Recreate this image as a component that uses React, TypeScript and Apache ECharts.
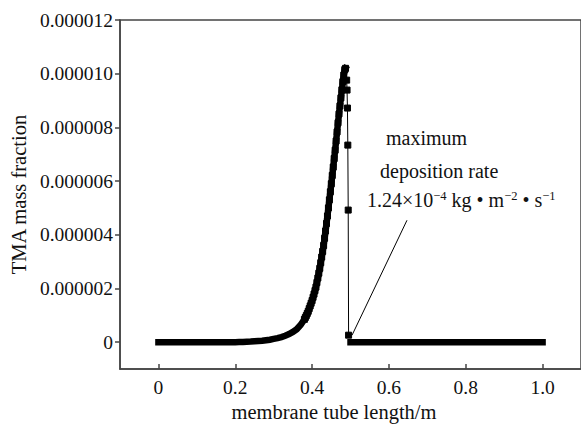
import React, { useEffect, useRef } from "react";
import * as echarts from "echarts";

// membrane tube length (m) and TMA mass fraction
const plateauStartX = [0.0, 0.01, 0.02, 0.03, 0.04, 0.05, 0.06, 0.07, 0.08, 0.09, 0.1, 0.11, 0.12, 0.13, 0.14, 0.15, 0.16, 0.17, 0.18, 0.19, 0.2];
const plateauStartY = [0, 0, 0, 0, 0, 0, 0, 0, 0, 0, 0, 0, 0, 0, 0, 0, 0, 0, 0, 0, 0];

const riseX = [0.21, 0.22, 0.23, 0.24, 0.25, 0.26, 0.27, 0.28, 0.29, 0.3, 0.31, 0.32, 0.33, 0.34, 0.35, 0.36, 0.37];
const riseY = [0.005e-6, 0.01e-6, 0.015e-6, 0.02e-6, 0.03e-6, 0.04e-6, 0.05e-6, 0.07e-6, 0.09e-6, 0.12e-6, 0.15e-6, 0.19e-6, 0.24e-6, 0.3e-6, 0.38e-6, 0.48e-6, 0.64e-6];

const peakX = [
  0.38, 0.3825, 0.385, 0.3875, 0.39, 0.3925, 0.395, 0.3975, 0.4, 0.4025, 0.405, 0.4075, 0.41, 0.4125, 0.415,
  0.4175, 0.42, 0.4225, 0.425, 0.4275, 0.43, 0.4325, 0.435, 0.4375, 0.44, 0.4425, 0.445, 0.4475, 0.45, 0.4525,
  0.455, 0.4575, 0.46, 0.4625, 0.465, 0.4675, 0.47, 0.4725, 0.475, 0.4775, 0.48, 0.4825, 0.485, 0.487,
];
const peakY = [
  0.85e-6, 0.92e-6, 0.99e-6, 1.07e-6, 1.15e-6, 1.25e-6, 1.35e-6, 1.45e-6, 1.55e-6, 1.67e-6, 1.79e-6, 1.92e-6,
  2.05e-6, 2.22e-6, 2.39e-6, 2.57e-6, 2.75e-6, 2.96e-6, 3.17e-6, 3.38e-6, 3.6e-6, 3.87e-6, 4.14e-6, 4.42e-6,
  4.7e-6, 5.0e-6, 5.3e-6, 5.6e-6, 5.9e-6, 6.21e-6, 6.52e-6, 6.84e-6, 7.15e-6, 7.49e-6, 7.83e-6, 8.17e-6,
  8.5e-6, 8.8e-6, 9.1e-6, 9.4e-6, 9.7e-6, 9.95e-6, 10.15e-6, 10.2e-6,
];

const dropX = [0.49, 0.491, 0.492, 0.493, 0.494, 0.495];
const dropY = [9.76e-6, 9.39e-6, 8.72e-6, 7.34e-6, 4.92e-6, 0.26e-6];

const plateauEndX = [
  0.5, 0.51, 0.52, 0.53, 0.54, 0.55, 0.56, 0.57, 0.58, 0.59, 0.6, 0.61, 0.62, 0.63, 0.64, 0.65, 0.66, 0.67, 0.68,
  0.69, 0.7, 0.71, 0.72, 0.73, 0.74, 0.75, 0.76, 0.77, 0.78, 0.79, 0.8, 0.81, 0.82, 0.83, 0.84, 0.85, 0.86, 0.87,
  0.88, 0.89, 0.9, 0.91, 0.92, 0.93, 0.94, 0.95, 0.96, 0.97, 0.98, 0.99, 1.0,
];
const plateauEndY = [
  0, 0, 0, 0, 0, 0, 0, 0, 0, 0, 0, 0, 0, 0, 0, 0, 0, 0, 0, 0, 0, 0, 0, 0, 0, 0, 0, 0, 0, 0, 0, 0, 0, 0, 0, 0, 0,
  0, 0, 0, 0, 0, 0, 0, 0, 0, 0, 0, 0, 0, 0,
];

const xTicks = [0, 0.2, 0.4, 0.6, 0.8, 1.0];
const yTicks = [0, 2e-6, 4e-6, 6e-6, 8e-6, 10e-6, 12e-6];

// leader line from the maximum-deposition point to the annotation
const leaderStart = [0.504, 0.26e-6];
const leaderEnd = [0.647, 4.54e-6];

const FONT = "'Liberation Serif', 'Times New Roman', serif";
const FS = 19.5;
const FS_NAME = 20.5;
const FS_NOTE = 20;
const TEXT = "#111";
const AXIS = "#444";

const pairs = (xs: number[], ys: number[]) => xs.map((x, i) => [x, ys[i]]);

export default function App() {
  const ref = useRef<HTMLDivElement>(null);
  useEffect(() => {
    if (!ref.current) return;
    const chart = echarts.init(ref.current, undefined, { renderer: "svg" });
    // square markers on the steep part of the curve, around the maximum
    const markerData = pairs([...peakX, ...dropX], [...peakY, ...dropY]);
    // the overlapping markers merge into a solid band along the rest of the curve
    const risingBand = pairs([...plateauStartX, ...riseX, ...peakX], [...plateauStartY, ...riseY, ...peakY]);
    const tailBand = pairs(plateauEndX, plateauEndY);

    const band = (data: number[][]) => ({
      type: "line",
      data,
      symbol: "none",
      silent: true,
      lineStyle: { color: "#000", width: 6.5, cap: "square", join: "miter" },
      z: 1,
    });

    chart.setOption({
      animation: false,
      backgroundColor: "#fff",
      grid: {
        left: 117,
        top: 20,
        width: 469,
        height: 349,
        show: true,
        borderColor: AXIS,
        borderWidth: 1.5,
        containLabel: false,
      },
      xAxis: {
        type: "value",
        min: -0.1,
        max: 1.1,
        name: "membrane tube length/m",
        nameLocation: "middle",
        nameGap: 27,
        nameTextStyle: { fontFamily: FONT, fontSize: FS_NAME, color: TEXT, padding: [0, 33, 0, 0] },
        axisLine: { show: true, onZero: false, lineStyle: { color: AXIS, width: 1.5 } },
        axisTick: { show: true, inside: true, length: 5, customValues: xTicks, lineStyle: { color: AXIS, width: 1.5 } },
        axisLabel: {
          customValues: xTicks,
          margin: 8,
          fontFamily: FONT,
          fontSize: FS,
          color: TEXT,
          formatter: (v: number) => (v === 0 ? "0" : v.toFixed(1)),
        },
        splitLine: { show: false },
      },
      yAxis: {
        type: "value",
        min: -1e-6,
        max: 1.2e-5,
        name: "TMA mass fraction",
        nameLocation: "middle",
        nameRotate: 90,
        nameGap: 87,
        nameTextStyle: { fontFamily: FONT, fontSize: FS_NAME, color: TEXT },
        axisLine: { show: true, onZero: false, lineStyle: { color: AXIS, width: 1.5 } },
        axisTick: { show: true, inside: false, length: 5, customValues: yTicks, lineStyle: { color: AXIS, width: 1.5 } },
        axisLabel: {
          customValues: yTicks,
          margin: 7,
          fontFamily: FONT,
          fontSize: FS,
          color: TEXT,
          formatter: (v: number) => (v === 0 ? "0" : v.toFixed(6)),
        },
        splitLine: { show: false },
      },
      series: [
        band(risingBand),
        band(tailBand),
        {
          type: "line",
          data: markerData,
          showAllSymbol: true,
          symbol: "rect",
          symbolSize: 6,
          z: 2,
          itemStyle: { color: "#000", borderColor: "#000", borderWidth: 1 },
          lineStyle: { color: "#000", width: 1 },
          markLine: {
            silent: true,
            symbol: ["none", "none"],
            label: { show: false },
            lineStyle: { color: "#000", width: 1, type: "solid" },
            data: [[{ coord: leaderStart }, { coord: leaderEnd }]],
          },
        },
      ],
      graphic: [
        {
          type: "text",
          x: 386,
          y: 138,
          style: { text: "maximum", fontFamily: FONT, fontSize: FS_NOTE, fill: TEXT, align: "left", verticalAlign: "middle" },
        },
        {
          type: "text",
          x: 380,
          y: 171,
          style: { text: "deposition rate", fontFamily: FONT, fontSize: FS_NOTE, fill: TEXT, align: "left", verticalAlign: "middle" },
        },
        {
          type: "text",
          x: 367,
          y: 200,
          style: {
            text: "{a|1.24×10}{s|−4}{a| kg • m}{s|−2}{a| • s}{s|−1}",
            align: "left",
            verticalAlign: "middle",
            fill: TEXT,
            rich: {
              a: { fontFamily: FONT, fontSize: FS_NOTE, fill: TEXT, lineHeight: 22 },
              s: { fontFamily: FONT, fontSize: 12.5, fill: TEXT, lineHeight: 20, verticalAlign: "top" },
            },
          },
        },
      ],
    });
    return () => chart.dispose();
  }, []);
  return <div ref={ref} style={{ position: "fixed", left: 0, top: 0, width: 581, height: 430 }} />;
}
